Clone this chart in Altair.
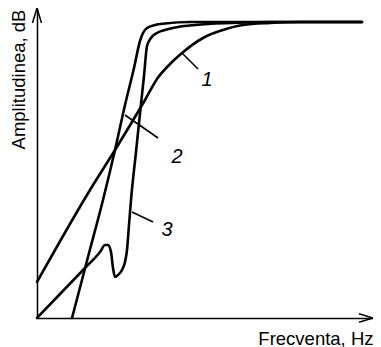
import altair as alt
import pandas as pd

# Axis extents (arbitrary units)
X_MAX = 336
Y_MAX = 310

# Curve 1
freq1 = [0, 53, 78, 108, 120, 133, 145, 166, 186, 206, 233, 263, 325]
amp1 = [36, 128, 168, 218, 239, 254, 265, 280, 288, 293, 295, 296, 296]
# Curve 2
freq2 = [35, 51, 66, 78, 88, 97, 103, 106, 110, 118, 128, 153, 325]
amp2 = [0, 61, 118, 168, 213, 250, 277, 285, 290, 293, 294.5, 296, 296]
# Curve 3
freq3 = [0, 23, 48, 63, 68, 71, 74, 76, 78, 81, 85, 88, 90, 92, 94, 99, 104, 107,
         110, 114, 120, 128, 141, 158, 178, 208, 233, 325]
amp3 = [0, 24, 50, 66, 73, 73, 66, 50, 41, 43, 48, 56, 68, 93, 118, 166, 214, 242,
        272, 280, 285, 288, 291, 293, 294.5, 295.5, 296, 296]

# Curve labels and leader lines
label_text = ["1", "2", "3"]
label_x = [170, 140, 130]
label_y = [238, 161, 88]
lead_x0 = [145, 88, 95]
lead_y0 = [265, 203, 106]
lead_x1 = [161, 121, 116]
lead_y1 = [249, 180, 96]

rows = []
for name, fs, as_ in (("1", freq1, amp1), ("2", freq2, amp2), ("3", freq3, amp3)):
    for i, (f, a) in enumerate(zip(fs, as_)):
        rows.append({"curve": name, "i": i, "f": f, "a": a})
df = pd.DataFrame(rows)

labels_df = pd.DataFrame({"t": label_text, "f": label_x, "a": label_y})
leaders_df = pd.DataFrame({"f": lead_x0, "a": lead_y0, "f2": lead_x1, "a2": lead_y1})

xs = alt.Scale(domain=[0, X_MAX], nice=False, zero=True)
ys = alt.Scale(domain=[0, Y_MAX], nice=False, zero=True)

xaxis = alt.Axis(title="Frecventa, Hz", labels=False, ticks=False, grid=False,
                 domainColor="black", domainWidth=1.5,
                 titleFont="Liberation Sans", titleFontSize=18.5, titleFontWeight="normal",
                 titleColor="black", titleX=X_MAX, titleY=26, titleAlign="right",
                 titleBaseline="alphabetic")
yaxis = alt.Axis(title="Amplitudinea, dB", labels=False, ticks=False, grid=False,
                 domainColor="black", domainWidth=1.5,
                 titleFont="Liberation Sans", titleFontSize=18.5, titleFontWeight="normal",
                 titleColor="black", titleX=-13, titleY=71, titleAngle=270,
                 titleAlign="center", titleBaseline="alphabetic")

lines = alt.Chart(df).mark_line(color="black", strokeWidth=2.6, interpolate="monotone",
                                strokeCap="round", strokeJoin="round").encode(
    x=alt.X("f:Q", scale=xs, axis=xaxis),
    y=alt.Y("a:Q", scale=ys, axis=yaxis),
    detail="curve:N",
    order="i:Q",
)

leaders = alt.Chart(leaders_df).mark_rule(color="black", strokeWidth=1.6).encode(
    x=alt.X("f:Q", scale=xs), y=alt.Y("a:Q", scale=ys), x2="f2:Q", y2="a2:Q"
)

labels = alt.Chart(labels_df).mark_text(font="Liberation Sans", fontStyle="italic",
                                        fontSize=20, color="black", align="center",
                                        baseline="middle").encode(
    x=alt.X("f:Q", scale=xs), y=alt.Y("a:Q", scale=ys), text="t:N"
)

xarrow = alt.Chart(pd.DataFrame({"f": [X_MAX], "a": [0]})).mark_point(
    shape="M-1,-0.3L0,0L-1,0.3", size=784, filled=False, color="black",
    strokeWidth=1.5, opacity=1).encode(x=alt.X("f:Q", scale=xs), y=alt.Y("a:Q", scale=ys))
yarrow = alt.Chart(pd.DataFrame({"f": [0], "a": [Y_MAX]})).mark_point(
    shape="M-0.3,1L0,0L0.3,1", size=900, filled=False, color="black",
    strokeWidth=1.5, opacity=1).encode(x=alt.X("f:Q", scale=xs), y=alt.Y("a:Q", scale=ys))

chart = alt.layer(lines, leaders, labels, xarrow, yarrow).properties(
    width=X_MAX, height=Y_MAX,
    autosize=alt.AutoSizeParams(type="none"),
    padding={"left": 29, "top": 0, "right": 0, "bottom": 29},
    background="white",
).configure_view(stroke=None)

chart.save("out.html", embed_options={"renderer": "svg", "actions": False})
